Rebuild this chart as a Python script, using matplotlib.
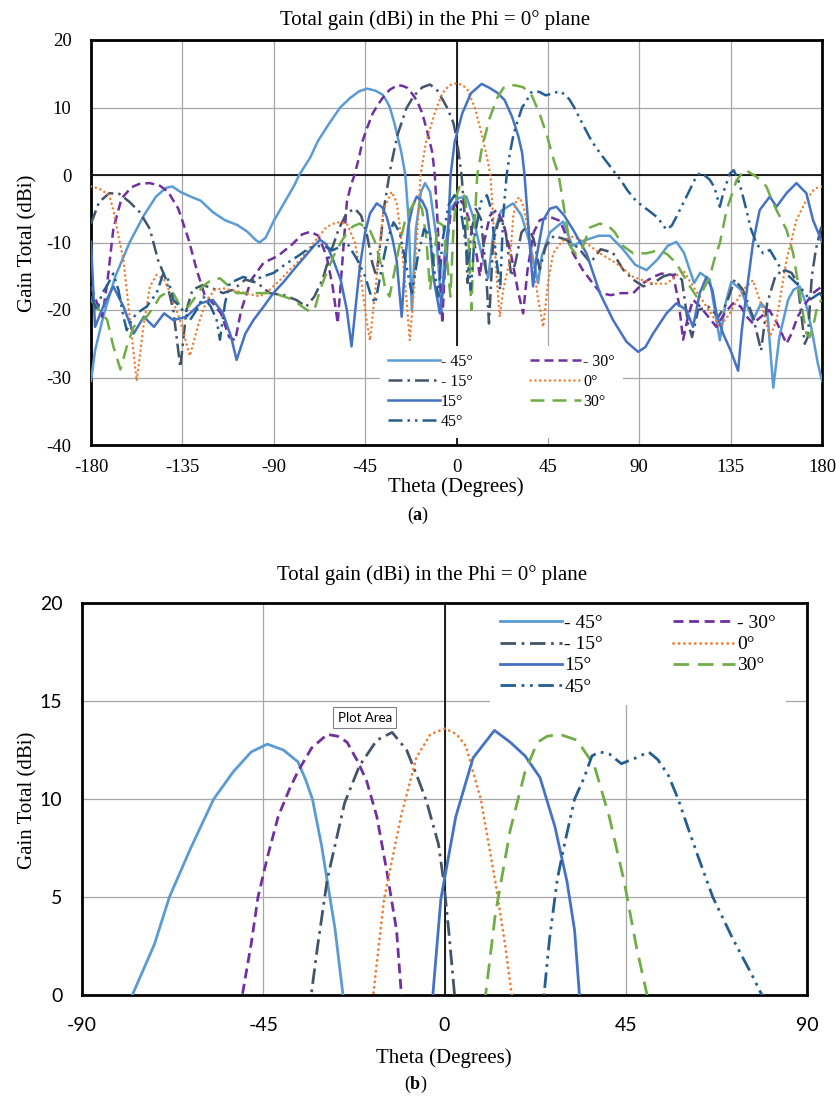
import matplotlib.pyplot as plt

plt.rcParams['mathtext.fontset'] = 'custom'
plt.rcParams['mathtext.rm'] = 'Liberation Serif'
plt.rcParams['mathtext.bf'] = 'Liberation Serif:bold'
plt.rcParams['axes.unicode_minus'] = False

SERIF = 'Liberation Serif'

# ---- data: total gain (dBi) vs theta (deg) for each steering angle ----
theta_m45 = [-180, -178, -174, -168, -161, -154, -148, -143, -140, -136, -131, -126, -120, -114, -108,
             -103, -99, -97, -94, -90, -85, -80, -77.5, -72, -68.3, -63, -57.3, -52.4, -48, -44, -40,
             -36.4, -34.5, -32.8, -30.5, -29.1, -27.2, -25.2, -23.5, -22, -20, -17.5, -15.5, -13, -10,
             -8.5, -7.4, -6, -3, 1, 4.9, 8, 11, 13.5, 15.6, 18, 22, 27.9, 32, 36, 38.5, 40.2, 42, 46,
             52.5, 57, 62, 70, 75.5, 82, 88, 93.6, 99, 104, 108.3, 112, 117, 120, 124.7, 129.7, 132.5,
             135.4, 140, 146, 150, 153, 156, 159, 163.3, 166, 169, 172, 175, 178, 180]
gain_m45 = [-30.5, -26, -21, -15, -10, -6, -3.2, -1.9, -1.7, -2.5, -3.2, -3.8, -5.5, -6.7, -7.4,
            -8.4, -9.6, -10, -9.3, -6.8, -4.2, -1.6, 0, 2.6, 5.0, 7.5, 10, 11.4, 12.4, 12.8, 12.5,
            11.9, 11, 10, 7.6, 5.8, 3.4, 0, -7, -20, -8, -2.5, -1.2, -2.5, -9,
            -15, -20.5, -12, -5, -3.4, -3.2, -6, -10, -13, -15.3, -9, -5.3, -4.2, -6, -10, -13.5, -16, -12, -8.5,
            -6.9, -10.5, -9.8, -9.0, -9.0, -11, -13.3, -14.1, -12.5, -10.5, -9.9, -11.5, -16, -14.5, -15.5, -24.5, -19,
            -15.8, -17, -21.5, -19, -20, -31.5, -24, -18.5, -17, -16.5, -19, -23, -28, -30.5]

theta_m30 = [-180, -177, -174.5, -172, -169, -165, -160, -156, -151, -146, -142, -137, -132, -128, -124,
             -120, -116, -112, -109, -106, -101, -95, -88, -81, -76, -72, -68, -64, -61, -58.5, -56.5,
             -54, -52, -50.2, -48, -46.3, -44, -41.3, -38.5, -36.4, -33, -29.1, -26.5, -24.2, -21.5,
             -19.3, -16.8, -14.4, -11.9, -10.7, -9.5, -8, -7, -5.5, -3, 0, 1.6, 4, 7, 10, 11.5, 13.5,
             16.5, 19.7, 23, 27, 30.5, 32.8, 35, 38, 41, 46, 51, 54, 57.4, 62, 67, 71, 76, 81, 87, 92,
             96.8, 101, 106.7, 109.5, 111.6, 114, 116.5, 120, 124, 128, 132, 136.2, 140, 143, 146, 150,
             154, 158, 162.5, 165, 168, 172, 175.6, 180]
gain_m30 = [-16.5, -19, -21, -16, -8, -3.5, -1.8, -1.3, -1.2, -1.6, -2.5, -5, -9.5, -14, -17.8,
            -19, -20.5, -24, -24.5, -20, -15.5, -13, -12, -10.3, -8.8, -8.4, -9, -12, -16.5, -22, -14,
            -4, -1.5, 0, 2.6, 5, 7, 9.1, 10.5, 11.4, 12.6, 13.3, 13.2, 12.9, 11.9,
            10.9, 9.1, 6.4, 3.3, 0, -6, -15, -22, -12, -6, -3.9, -3.7, -4.5, -7.5, -12, -15, -10,
            -6, -5.2, -7, -12, -17.5, -20.5, -14, -8.5, -6.7, -6.2, -6.8, -9, -11.6, -14, -16, -17.5, -17.8, -17.5, -17.5, -16,
            -15.1, -14.6, -14.8, -19, -24.4, -21, -18.5, -19.5, -21, -22.5, -20.5, -19, -19.5, -21, -22, -21,
            -20, -22, -25, -23.5, -21, -19, -17.5, -16.5]

theta_m15 = [-180, -176, -171, -166, -161, -156, -151, -147, -143, -139.5, -136, -133, -130, -125, -120,
             -115, -110, -104, -98, -92, -85, -79, -74, -70, -66, -62, -58, -54, -50, -47, -44, -41.5,
             -39.5, -37.5, -35.5, -33.1, -31.5, -29.1, -24.8, -21.1, -16.8, -13, -9.4, -6.5, -4.5, -1.5,
             -0.2, 1.0, 2.5, 4, 5.5, 7, 9.5, 12, 14.5, 16, 18, 21, 24, 27, 29, 32, 35, 38, 41, 44, 48,
             54, 60, 66, 71, 77, 82, 87, 92, 97, 102, 107, 111, 114, 116, 119, 124, 129, 133, 137, 141,
             146, 150, 153, 157, 161, 165, 168, 171.5, 173, 175, 177, 180]
gain_m15 = [-7.2, -4, -2.7, -2.8, -4, -5.5, -8, -12.6, -15.5, -20, -28.5, -20, -17, -16.3, -16.8,
            -17.5, -17, -15.5, -16, -17.5, -17.8, -18.5, -19.5, -18, -15.5, -11.5, -8, -5.6, -5, -6, -9, -13,
            -15, -10, -4.5, 0, 2.5, 5.9, 9.8, 11.7, 13.0, 13.4, 12.5, 11, 9.9, 7.7,
            5.8, 3.4, 0, -6, -16, -9, -5, -6.5, -14, -22, -10, -6.5, -8, -15, -13, -8.5, -7.5, -9.5, -14, -10.5, -9,
            -9.6, -10.8, -13, -11, -11.5, -14, -15.5, -16.5, -16, -15, -14.6, -15.5, -22, -24, -20, -19.5, -21, -19, -15.5, -17,
            -21, -26, -19, -15, -14, -14.5, -16, -25, -24, -15, -11, -7.2]

theta_p0 = [-180, -176, -171, -169, -166.5, -164, -160.8, -157.5, -154.2, -151, -147.7, -144, -141, -136.2,
            -131.3, -127, -123, -119, -114.8, -106.6, -96.8, -92, -87, -82, -77.1, -70.5, -64, -59, -54,
            -50, -47.6, -44.3, -42.6, -41, -39.3, -36, -32, -29.5, -27.9, -24.6, -23, -21.2, -19.6, -18.6,
            -17.7, -15, -10.7, -7, -3.5, 0.1, 3, 5.3, 9, 12.6, 15.1, 16.7, 18, 19.5, 21.3, 23, 26.3, 28,
            29.5, 31, 33, 35.5, 37.7, 40, 42.7, 45, 47.6, 52, 57.4, 64, 70.6, 78.8, 87, 96.8, 103.4,
            111.6, 116.5, 123.1, 129.7, 134.6, 141.1, 146, 151, 154.3, 157.6, 162.5, 167.4, 172.3, 176.4, 180]
gain_p0 = [-1.7, -2, -3, -5.2, -9, -12.6, -21.5, -30.5, -22.5, -16.5, -14.8, -15.5, -17.5, -21.5,
           -26.8, -22, -18.5, -17, -16.8, -17.3, -18, -17, -15.6, -14, -12.6, -10.1, -7.7, -7, -7.2,
           -10, -14.1, -21.5, -24.5, -20, -15.1, -5.2, -2.5, -4, -7.7, -18.5, -24.5, -18, -10, -4.5,
           0, 4.9, 9.2, 12.1, 13.3, 13.6, 13.3, 12.7, 10, 5.8, 2.5, 0, -6, -14, -21, -17, -12.6, -6,
           -3.7, -3.3, -4.7, -8.5, -13, -18, -22.5, -16, -11.6, -9.8, -9.1, -10.1, -11.6, -13.1, -15.1, -16.1, -16.1,
           -14.1, -16.5, -19.5, -22.5, -20.5, -17, -15.6, -20, -24, -21.5, -12.6, -6.7, -3.7, -2, -1.7]

theta_p15 = [-180, -178, -174, -169, -164, -159, -154, -149, -144, -139.5, -133, -126, -120, -115, -111,
             -108.3, -104, -100, -95, -90.2, -85, -80.4, -75, -70.5, -67.2, -64, -60.7, -57, -54, -51.7,
             -49.5, -47.6, -45, -42.6, -39.3, -36.5, -34.4, -31.5, -29.5, -27, -25.3, -23.8, -21.5, -19.6,
             -17, -14.7, -13, -11.4, -8.2, -6.5, -4.9, -3.8, -2.9, -0.9, 2.8, 7.1, 12.4, 16.3, 20, 23.7,
             27.4, 30.4, 32.3, 33.5, 35, 36.5, 37.7, 39.5, 42.7, 46, 49.2, 53, 57.4, 64, 70.6, 77.1, 83.7,
             89.4, 93, 96.8, 103.4, 108.3, 113.2, 116.5, 119.8, 123.1, 126, 128, 131.3, 135, 138.7, 140.5,
             142.8, 146, 149.3, 154.3, 157.6, 162.5, 167.4, 172.3, 175.6, 180]
gain_p15 = [-9.9, -22.5, -19.5, -16.5, -19.5, -23.5, -21, -22.5, -20.5, -21.5, -21, -19, -18.5, -20.5, -24,
            -27.4, -23.5, -21.5, -19.5, -17.5, -15.8, -14.1, -12.2, -10.6, -9.6, -10.3, -12.6, -15.6, -20, -25.4,
            -19, -13.6, -8.5, -5.7, -4.2, -4.8, -6.2, -9.5, -12.6, -21, -13, -7.7, -4.5, -3.2,
            -3.8, -5.2, -9, -15.1, -20.5, -16, -12.6, -6, 0, 4.9, 9.1, 12.1, 13.5, 12.9, 12.2, 11.1,
            8.6, 5.8, 3.3, 0, -6, -12, -16.5, -12, -6.7, -5, -4.7, -6, -8.1, -11.6, -17.5, -21.5, -24.7,
            -26.2, -25.5, -23.5, -20.5, -19, -20, -22.5, -17.5, -15.1, -17, -20.5, -23.5, -26, -29, -23,
            -17.5, -10.1, -5.2, -3.2, -4.7, -2.7, -1.2, -2.7, -6.7, -9.9]

theta_p30 = [-180, -176, -172, -169, -165.5, -162, -159, -155, -152.6, -149, -146, -142, -139.5, -136,
             -132, -129.6, -125, -121, -116.5, -112, -108.3, -100, -90.2, -85, -80.4, -76, -72, -69.5,
             -67.2, -64, -60.7, -57, -54, -51, -47.6, -42.6, -40, -37.7, -35, -33, -31, -27.9, -25.5,
             -23, -19.6, -17, -15, -13, -11.5, -9, -6.5, -4.5, -3, -1.5, 0, 1.5, 3, 4.5, 6, 7.3, 8.5,
             9.5, 10.2, 12.6, 16.3, 20, 23.1, 25.5, 28.6, 32.9, 37.2, 40.9, 44.6, 47.6, 50.3, 53, 56,
             59, 61.5, 65.6, 70.6, 75, 78, 82, 87, 93.6, 100.1, 104, 108.3, 114.9, 118.2, 121, 124.7,
             127, 129.7, 133, 137.9, 142, 147.7, 152.6, 155, 157.6, 162.5, 165.8, 169, 172.3, 174,
             175.6, 178, 180]
gain_p30 = [-18.5, -20, -21.5, -25.4, -28.8, -25, -22.5, -21.5, -21, -19.5, -18, -17.3, -17.5, -19.5,
            -19.5, -18.5, -16.5, -15.6, -15.3, -16.5, -17.5, -17.5, -17.5, -18, -18.5, -19.5, -20.3, -19.5,
            -17, -14.5, -12.1, -10, -8.6, -7.6, -7.2, -8.2, -10, -12.6, -17, -18, -15, -10.1, -7,
            -5.2, -3.6, -5, -9, -17, -13, -7, -7.5, -13, -18, -8, -3, -1.8, -2.2, -4, -10, -20, -10,
            -4, 0, 4.1, 8.4, 11.4, 12.9, 13.2, 13.3, 13.0, 11.7, 9.1, 5.8, 2.5, 0, -5, -10.6,
            -11.8, -11.2, -7.8, -7.2, -7.6, -8.5, -10.5, -11.6, -11.6, -11.1, -11.8, -13.1, -16.5, -18, -17.3, -15.1,
            -12.5, -10.1, -5.2, -0.8, 0.8, -0.25, -1.7, -3.5, -5.2, -8.1, -11.6, -17.5, -23.5, -24,
            -22.5, -19, -18.5]

theta_p45 = [-180, -177, -174.5, -172.3, -169, -166.5, -164, -162.4, -160, -157.5, -152.6, -147.7, -144.4,
             -142, -139.5, -136.2, -131.3, -128, -124.7, -121, -118.1, -116.5, -114, -111.6, -105, -100,
             -95, -90, -83.7, -78, -73.8, -70.5, -66, -60.7, -57, -54, -49, -45, -42, -40, -37, -34, -31,
             -28, -25, -22, -19, -16, -13, -11, -9, -7, -4, -1, 2, 5, 7, 9, 12, 15, 17, 19.5, 21.5, 23,
             24.7, 26.1, 28, 29.8, 32.3, 34.7, 36.6, 38.5, 40.9, 43.9, 47.5, 50.7, 53, 55.6, 58, 60.5,
             62.9, 66.6, 71.5, 76.4, 78.3, 81, 84, 88.6, 95.2, 99, 103.4, 106, 108.3, 111.6, 114.9, 117.5,
             119.8, 122, 124.7, 127, 129.7, 131.5, 134.6, 136.5, 138.5, 140.5, 142.8, 145, 147.7, 151,
             154.3, 159.2, 164.1, 169, 174, 178.9, 180]
gain_p45 = [-18, -20, -17.5, -16.5, -14.6, -17, -21, -23, -21.5, -20.5, -19.5, -17.5, -14.6,
            -15.5, -18.5, -19.5, -21.5, -20, -18, -19.5, -21.5, -24.4, -19, -16, -15.1, -15.6,
            -15, -14.5, -13.1, -12, -11.1, -10.6, -10.5, -11.1, -10.6, -10, -12.5, -15, -18, -19, -14, -9.6, -7,
            -8.5, -13, -17.5, -12, -8, -9, -14, -18, -10, -4.5, -3, -5, -11, -17, -9, -4, -3, -5, -12, -17, -6,
            0, 2.9, 5.9, 7.7, 10, 11.1, 12.2, 12.4, 12.3, 11.8, 12.1, 12.4, 12, 11.2, 10, 8.5,
            7.1, 5.0, 2.9, 1.0, 0.2, -0.8, -2.2, -3.9, -5.4, -6.3, -8.1, -7.5, -6.2, -4.2, -2.2, -0.6,
            0.3, 0, -0.7, -1.8, -4.7, -2.5, 0.2, 0.7, -0.5, -2.5, -5.2, -8, -10.1, -11.6,
            -11.1, -13.6, -15.1, -16.5, -18.5, -17.5, -18]

labels = ['- 45°', '- 30°', '- 15°', '0°', '15°', '30°', '45°']
colors = ['#5B9BD5', '#7030A0', '#44546A', '#ED7D31', '#4472C4', '#70AD47', '#255E91']
thetas = [theta_m45, theta_m30, theta_m15, theta_p0, theta_p15, theta_p30, theta_p45]
gains = [gain_m45, gain_m30, gain_m15, gain_p0, gain_p15, gain_p30, gain_p45]

styles = [
    dict(linestyle='-'),
    dict(linestyle=(0, (3.6, 2.0))),
    dict(linestyle=(0, (5.6, 2.0, 1.0, 2.0))),
    dict(linestyle=(0, (0.05, 1.9)), dash_capstyle='round'),
    dict(linestyle='-'),
    dict(linestyle=(0, (5.6, 3.2))),
    dict(linestyle=(0, (5.6, 2.0, 1.0, 2.0, 1.0, 2.0))),
]

fig = plt.figure(figsize=(8.36, 11), dpi=100)
W, H = 836, 1100


def px_axes(l, t, r, b):
    return fig.add_axes([l / W, 1 - b / H, (r - l) / W, (b - t) / H])


def draw(ax, lw):
    handles = []
    for lab, th, g, c, st in zip(labels, thetas, gains, colors, styles):
        h, = ax.plot(th, g, color=c, lw=lw, label=lab, zorder=3, **st)
        handles.append(h)
    ax.grid(True, color='#A6A6A6', lw=0.9, zorder=0)
    ax.set_axisbelow(True)
    for s in ax.spines.values():
        s.set_linewidth(2.0)
        s.set_color('black')
    ax.tick_params(length=0)
    return handles


def legend(ax, handles, fs, anchor, spacing):
    order = [0, 2, 4, 6, 1, 3, 5]
    leg = ax.legend([handles[i] for i in order], [labels[i] for i in order], ncol=2,
                    loc='upper left', bbox_to_anchor=anchor,
                    prop={'family': SERIF, 'size': fs}, handlelength=3.2, handletextpad=0.1,
                    columnspacing=3.6, labelspacing=spacing, borderpad=0.5,
                    frameon=True, fancybox=False, framealpha=1, facecolor='white', edgecolor='none')
    leg.set_zorder(5)


# ---- (a) full pattern ----
ax1 = px_axes(91, 40, 822, 445)
h1 = draw(ax1, 1.8)
ax1.axhline(0, color='black', lw=1.2, zorder=1)
ax1.axvline(0, color='black', lw=1.2, zorder=1)
ax1.set_xlim(-180, 180)
ax1.set_ylim(-40, 20)
ax1.set_xticks(range(-180, 181, 45))
ax1.set_yticks(range(-40, 21, 10))
ax1.tick_params(axis='x', pad=10, labelsize=13.5)
ax1.tick_params(axis='y', pad=14, labelsize=13.5)
for t in ax1.get_xticklabels() + ax1.get_yticklabels():
    t.set_family(SERIF)
legend(ax1, h1, 11.5, (0.385, 0.265), 0.25)

fig.text(435 / W, 1 - 20 / H, 'Total gain (dBi) in the Phi = 0° plane', ha='center', va='center',
         family=SERIF, fontsize=15)
fig.text(28 / W, 1 - 243 / H, 'Gain Total (dBi)', ha='center', va='center', rotation=90,
         family=SERIF, fontsize=15)
fig.text(456 / W, 1 - 487 / H, 'Theta (Degrees)', ha='center', va='center', family=SERIF, fontsize=15)
fig.text(418 / W, 1 - 515 / H, r'($\mathbf{a}$)', ha='center', va='center', family=SERIF, fontsize=13)

# ---- (b) zoom on main beams ----
ax2 = px_axes(82, 603, 807, 995)
h2 = draw(ax2, 2.0)
ax2.axvline(0, color='black', lw=1.2, zorder=1)
ax2.set_xlim(-90, 90)
ax2.set_ylim(0, 20)
ax2.set_xticks(range(-90, 91, 45))
ax2.set_yticks(range(0, 21, 5))
ax2.tick_params(axis='x', pad=16, labelsize=14)
ax2.tick_params(axis='y', pad=14, labelsize=14)
for t in ax2.get_xticklabels() + ax2.get_yticklabels():
    t.set_family('Lato')
legend(ax2, h2, 14, (0.55, 1.02), 0.18)
ax2.text(0.39, 0.707, 'Plot Area', transform=ax2.transAxes, ha='center', va='center',
         family='Lato', fontsize=9.5, zorder=6,
         bbox=dict(boxstyle='square,pad=0.35', fc='white', ec='#808080', lw=0.8))

fig.text(432 / W, 1 - 575 / H, 'Total gain (dBi) in the Phi = 0° plane', ha='center', va='center',
         family=SERIF, fontsize=15)
fig.text(28 / W, 1 - 800 / H, 'Gain Total (dBi)', ha='center', va='center', rotation=90,
         family=SERIF, fontsize=15)
fig.text(444 / W, 1 - 1058 / H, 'Theta (Degrees)', ha='center', va='center', family=SERIF, fontsize=15)
fig.text(416 / W, 1 - 1084 / H, r'($\mathbf{b}$)', ha='center', va='center', family=SERIF, fontsize=13)

fig.savefig('out.png', dpi=100)
